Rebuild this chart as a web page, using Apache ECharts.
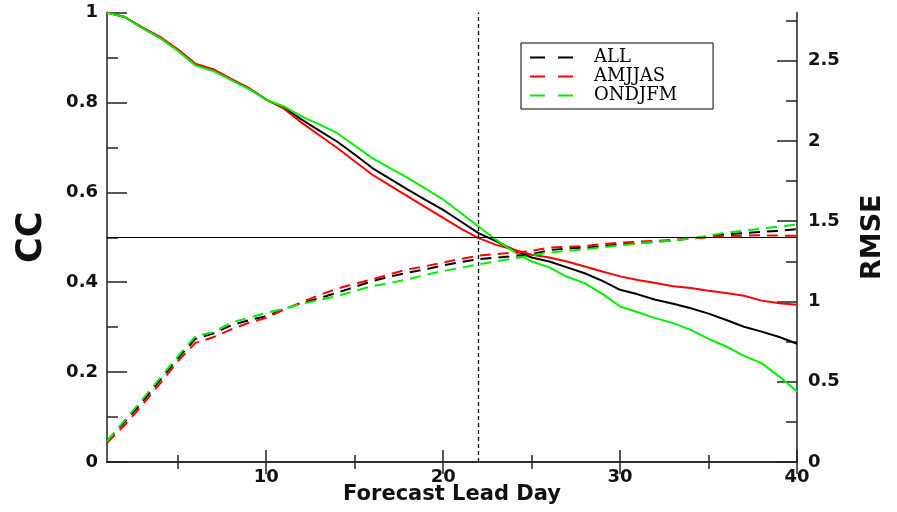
<!DOCTYPE html>
<html><head><meta charset="utf-8">
<script src="https://cdn.jsdelivr.net/npm/echarts@6/dist/echarts.min.js"></script>
<style>html,body{margin:0;padding:0;background:#fff}#c{width:897px;height:512px}</style>
</head><body><div id="c"></div>
<script>
// ---- data ----
const leadDays = [1,2,3,4,5,6,7,8,9,10,11,12,13,14,15,16,17,18,19,20,21,22,23,24,25,26,27,28,29,30,31,32,33,34,35,36,37,38,39,40];
const ccAll    = [1.0,0.99,0.966,0.944,0.917,0.884,0.872,0.852,0.832,0.806,0.788,0.762,0.737,0.713,0.684,0.654,0.630,0.606,0.583,0.561,0.535,0.509,0.491,0.472,0.455,0.446,0.433,0.420,0.403,0.383,0.373,0.361,0.352,0.342,0.330,0.316,0.301,0.290,0.278,0.263];
const ccAmjjas = [1.0,0.99,0.967,0.946,0.918,0.886,0.874,0.853,0.832,0.806,0.786,0.755,0.727,0.699,0.669,0.639,0.615,0.591,0.567,0.543,0.519,0.498,0.483,0.472,0.461,0.455,0.446,0.435,0.424,0.413,0.405,0.398,0.391,0.387,0.381,0.376,0.370,0.359,0.353,0.350];
const ccOndjfm = [1.0,0.99,0.965,0.943,0.915,0.882,0.870,0.850,0.830,0.806,0.791,0.769,0.751,0.732,0.704,0.676,0.654,0.632,0.608,0.584,0.554,0.524,0.494,0.468,0.446,0.433,0.412,0.398,0.374,0.346,0.333,0.320,0.309,0.294,0.274,0.257,0.236,0.220,0.190,0.157];
const rmseAll    = [0.13,0.25,0.375,0.51,0.645,0.767,0.80,0.85,0.883,0.908,0.95,0.99,1.02,1.054,1.09,1.127,1.155,1.179,1.20,1.225,1.245,1.263,1.273,1.283,1.294,1.32,1.33,1.335,1.345,1.356,1.363,1.371,1.38,1.392,1.405,1.419,1.426,1.433,1.44,1.45];
const rmseAmjjas = [0.12,0.23,0.356,0.49,0.627,0.742,0.777,0.825,0.867,0.898,0.95,0.995,1.04,1.079,1.11,1.138,1.17,1.20,1.22,1.242,1.265,1.285,1.295,1.304,1.315,1.335,1.34,1.346,1.357,1.367,1.372,1.377,1.385,1.392,1.40,1.408,1.41,1.412,1.41,1.41];
const rmseOndjfm = [0.13,0.26,0.39,0.523,0.658,0.783,0.808,0.867,0.898,0.929,0.955,0.985,1.01,1.033,1.065,1.096,1.115,1.138,1.165,1.19,1.21,1.231,1.25,1.267,1.288,1.304,1.315,1.325,1.338,1.35,1.36,1.371,1.38,1.392,1.41,1.429,1.44,1.454,1.467,1.48];
const seasonNames = ['ALL','AMJJAS','ONDJFM'];
const xMajorTicks = [10,20,30,40];
const xMinorTicks = [5,15,25,35];
const ccMajorTicks = [0,0.2,0.4,0.6,0.8,1];
const ccMinorTicks = [0.1,0.3,0.5,0.7,0.9];
const rmseMajorTicks = [0,0.5,1,1.5,2,2.5];
const rmseMinorTicks = [0.25,0.75,1.25,1.75,2.25,2.75];
const refLeadDay = 22;
const refCC = 0.5;

// ---- chart ----
const colors = ['#000000','#ff0000','#00ee00'];
const AX = '#222';
const SANS = 'DejaVu Sans';
const pair = arr => leadDays.map((d,i)=>[d, arr[i]]);
const tickLabel = {fontFamily:SANS, fontWeight:'bold', fontSize:18, color:'#111'};

function xAx(pos, ticks, len, showLine, extra){
  return Object.assign({type:'value', min:1, max:40, position:pos, nameMoveOverlap:false,
    axisLine:{show:showLine, lineStyle:{color:AX, width:1.5}},
    axisTick:{show:true, inside:true, length:len, customValues:ticks, lineStyle:{color:AX, width:1.5}},
    axisLabel:{show:false}, splitLine:{show:false}}, extra||{});
}
function yAx(pos, max, ticks, len, showLine, extra){
  return Object.assign({type:'value', min:0, max:max, position:pos, nameMoveOverlap:false,
    axisLine:{show:showLine, lineStyle:{color:AX, width:1.5}},
    axisTick:{show:true, inside:true, length:len, customValues:ticks, lineStyle:{color:AX, width:1.5}},
    axisLabel:{show:false}, splitLine:{show:false}}, extra||{});
}

const ccSets = [ccAll, ccAmjjas, ccOndjfm];
const rmseSets = [rmseAll, rmseAmjjas, rmseOndjfm];
const series = [];
ccSets.forEach((arr,i)=>{
  series.push({name:seasonNames[i]+' CC', type:'line', xAxisIndex:0, yAxisIndex:0,
    data:pair(arr), symbol:'none', smooth:false,
    lineStyle:{color:colors[i], width:2}, itemStyle:{color:colors[i]}});
});
rmseSets.forEach((arr,i)=>{
  series.push({name:seasonNames[i], type:'line', xAxisIndex:0, yAxisIndex:1,
    data:pair(arr), symbol:'none',
    lineStyle:{color:colors[i], width:2, type:[11,7]}, itemStyle:{color:colors[i]}});
});
series[0].markLine = {silent:true, symbol:'none', label:{show:false}, animation:false,
  data:[
    {yAxis:refCC, lineStyle:{type:'solid', color:'#000', width:1}},
    {xAxis:refLeadDay, lineStyle:{type:[4,3], color:'#000', width:1.3}}
  ]};

const dashIcon = 'path://M0,0H15V2H0Z M28,0H43V2H28Z';
const option = {
  animation:false,
  backgroundColor:'#fff',
  grid:{left:107, right:100, top:12.5, bottom:50, containLabel:false, outerBoundsMode:'none'},
  legend:{orient:'vertical', left:521, top:43, data:seasonNames,
    icon:dashIcon, itemWidth:43, itemHeight:2.2, itemGap:0, padding:[5,36,4,9],
    borderColor:'#000', borderWidth:1, backgroundColor:'#fff',
    textStyle:{fontFamily:'DejaVu Serif', fontSize:18, color:'#000', lineHeight:19, padding:[0,0,0,16]}},
  xAxis:[
    xAx('bottom', xMajorTicks, 12, true, {
      axisLabel:Object.assign({show:true, customValues:xMajorTicks, margin:6}, tickLabel),
      name:'Forecast Lead Day', nameLocation:'middle', nameGap:22,
      nameTextStyle:{fontFamily:SANS, fontWeight:'bold', fontSize:21, color:'#111'}}),
    xAx('bottom', xMinorTicks, 7, false),
    xAx('top', xMajorTicks, 12, true),
    xAx('top', xMinorTicks, 7, false)
  ],
  yAxis:[
    yAx('left', 1, ccMajorTicks, 20, true, {
      axisLabel:Object.assign({show:true, customValues:ccMajorTicks, margin:9}, tickLabel),
      name:'CC', nameLocation:'middle', nameRotate:90, nameGap:58,
      nameTextStyle:{fontFamily:SANS, fontWeight:'bold', fontSize:35, color:'#111'}}),
    yAx('right', 2.8, rmseMajorTicks, 20, true, {
      axisLabel:Object.assign({show:true, customValues:rmseMajorTicks, margin:11}, tickLabel),
      name:'RMSE', nameLocation:'middle', nameRotate:90, nameGap:62,
      nameTextStyle:{fontFamily:SANS, fontWeight:'bold', fontSize:27, color:'#111'}}),
    yAx('left', 1, ccMinorTicks, 11, false),
    yAx('right', 2.8, rmseMinorTicks, 11, false)
  ],
  series:series
};
const chart = echarts.init(document.getElementById('c'), null, {renderer:'canvas'});
chart.setOption(option);
</script></body></html>
